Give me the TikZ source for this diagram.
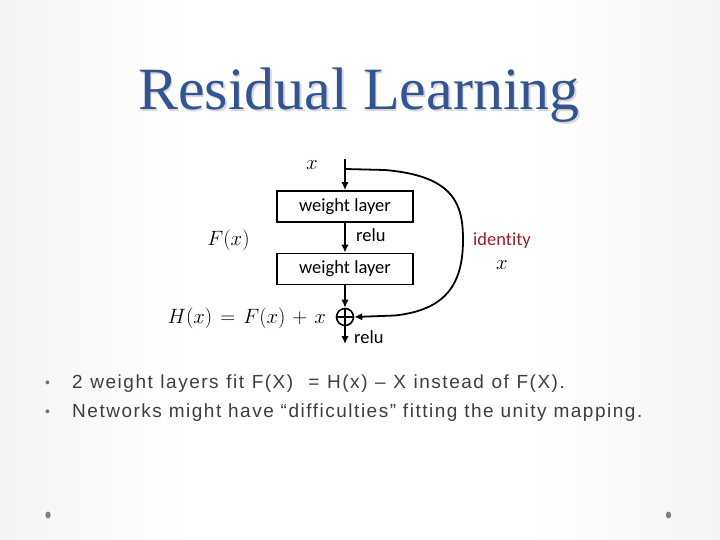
\documentclass[tikz,border=0pt]{standalone}
\usepackage{fontspec}
\usepackage{amsmath}
\usetikzlibrary{arrows.meta}
\setmainfont{Liberation Serif}
\newfontfamily\calib[Ligatures={NoCommon,NoRequired,NoContextual}]{Carlito}
\newfontfamily\bodyfont[LetterSpace=8]{Liberation Sans}
\newfontfamily\titlefont{Liberation Serif}
\definecolor{titleblue}{RGB}{50,85,145}
\definecolor{edgegray}{RGB}{216,216,216}
\definecolor{midgray}{RGB}{238,238,238}
\definecolor{bodygray}{RGB}{62,62,62}
\definecolor{idred}{RGB}{160,28,44}
\definecolor{dotgray}{RGB}{128,128,128}
\pgfdeclarehorizontalshading{slidebg}{100bp}{color(0bp)=(edgegray); color(18bp)=(midgray); color(38bp)=(white); color(62bp)=(white); color(82bp)=(midgray); color(100bp)=(edgegray)}
\tikzset{
  layerbox/.style={draw, line width=1.8pt, minimum width=136pt, minimum height=31pt, inner sep=0pt, font=\calib\fontsize{18.5}{20}\selectfont},
  lbl/.style={inner sep=0pt, font=\calib\fontsize{18.5}{20}\selectfont},
  mathlbl/.style={inner sep=0pt, font=\fontsize{22.5}{25}\selectfont},
  conn/.style={line width=1.8pt, -{Latex[length=8pt,width=7.5pt]}},
  bullettext/.style={inner sep=0pt, anchor=base west, text=bodygray, font=\bodyfont\fontsize{19}{22}\selectfont},
  bulletdot/.style={inner sep=0pt, anchor=base, text=bodygray!75, font=\bodyfont\fontsize{14}{16}\selectfont}
}
\begin{document}
\begin{tikzpicture}[x=1pt,y=-1pt]
\useasboundingbox (0,0) rectangle (720,540);
\shade[shading=slidebg] (0,0) rectangle (720,540);
% title
\node[anchor=base, inner sep=0pt, text=gray!30, font=\titlefont\fontsize{60}{62}\selectfont] at (360.5,111.5) {Residual Learning};
\node[anchor=base, inner sep=0pt, text=titleblue, font=\titlefont\fontsize{60}{62}\selectfont] (title) at (359,110) {Residual Learning};
% diagram
\coordinate (in) at (345,159);
\coordinate (split) at (345,169);
\node[layerbox] (w1) at (345,206.5) {weight layer};
\node[layerbox] (w2) at (345,269) {weight layer};
\node[draw, circle, line width=1.6pt, minimum size=17pt, inner sep=0pt,
  path picture={\draw[line width=1.6pt] (path picture bounding box.north) -- (path picture bounding box.south)
     (path picture bounding box.west) -- (path picture bounding box.east);}] (add) at (345,317) {};
\coordinate (out) at (345,344);
\draw[line width=1.8pt] (in) -- (split);
\draw[conn] (split) -- (w1.north);
\draw[conn] (w1.south) -- (w2.north);
\draw[conn] (w2.south) -- (add.north);
\draw[conn] (add.south) -- (out);
\draw[conn] (split) -- (385,170) .. controls (455,176) and (463,205) .. (463,240)
  .. controls (463,285) and (445,310) .. (395,315.5) -- (add.east);
\node[mathlbl] (xin) at (312,165) {$x$};
\node[lbl, anchor=west] (relu1) at (356,235) {relu};
\node[lbl, anchor=west] (relu2) at (354,337) {relu};
\node[mathlbl] (fx) at (228.5,240) {$F(x)$};
\node[mathlbl, anchor=east] (hx) at (326,318) {$H(x)\mkern2mu=\mkern2mu F(x)\mkern2mu+\mkern2mu x$};
\node[lbl, text=idred] (ident) at (502,241) {identity};
\node[mathlbl] (xid) at (502,265) {$x$};
% bullets
\node[bulletdot] (b1) at (47.5,387) {•};
\node[bullettext] (t1) at (72,388) {\spaceskip=7.6pt plus 1pt 2 weight layers fit F(X) \ = H(x) – X instead of F(X).};
\node[bulletdot] (b2) at (47.5,416) {•};
\node[bullettext] (t2) at (72,417) {Networks might have “difficulties” fitting the unity mapping.};
% footer dots
\fill[dotgray] (48,515) ellipse (2.7 and 3.5);
\fill[dotgray] (668.5,515) ellipse (2.7 and 3.5);
\end{tikzpicture}
\end{document}
